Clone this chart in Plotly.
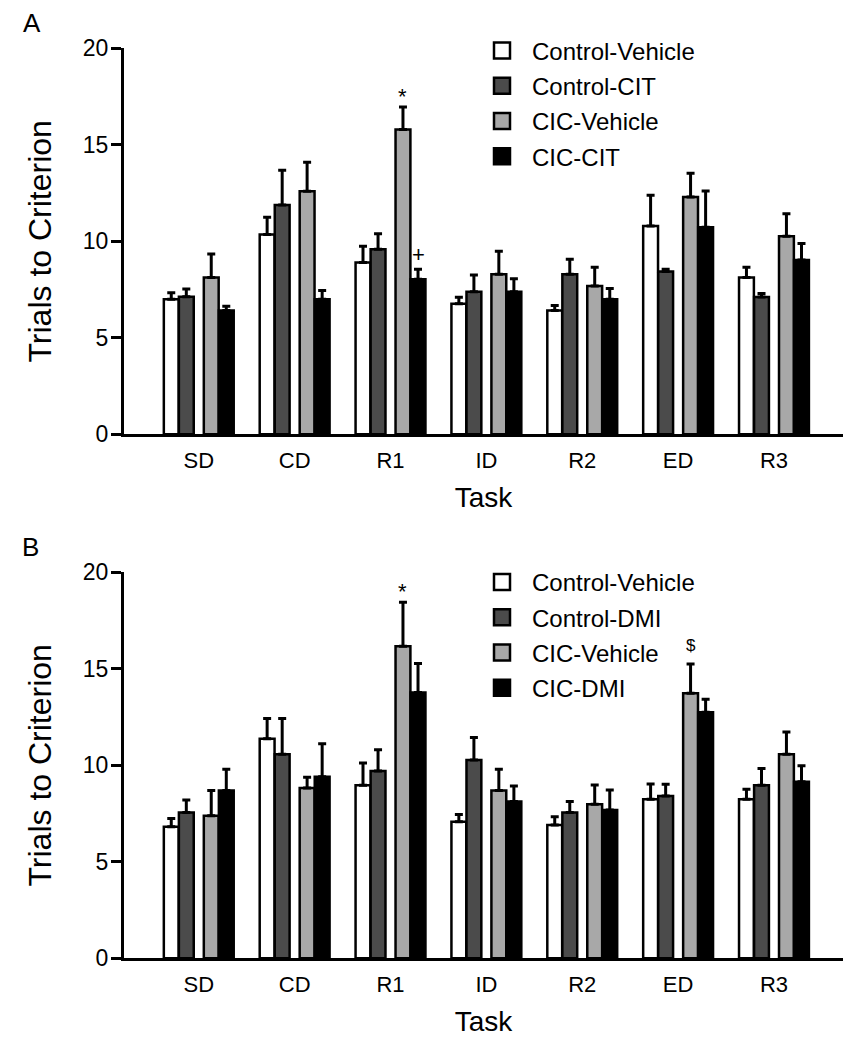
import plotly.graph_objects as go

# ---------------- data ----------------
tasks = ["SD", "CD", "R1", "ID", "R2", "ED", "R3"]

# Panel A
names_A = ["Control-Vehicle", "Control-CIT", "CIC-Vehicle", "CIC-CIT"]
ctrl_veh_A = [7.0, 10.35, 8.9, 6.77, 6.41, 10.79, 8.12]
ctrl_veh_A_err = [0.34, 0.9, 0.85, 0.33, 0.26, 1.6, 0.53]
ctrl_cit_A = [7.13, 11.88, 9.59, 7.39, 8.29, 8.43, 7.12]
ctrl_cit_A_err = [0.4, 1.8, 0.8, 0.86, 0.78, 0.12, 0.17]
cic_veh_A = [8.12, 12.59, 15.79, 8.29, 7.69, 12.3, 10.26]
cic_veh_A_err = [1.22, 1.5, 1.17, 1.19, 0.97, 1.23, 1.17]
cic_cit_A = [6.41, 7.0, 8.03, 7.39, 7.0, 10.73, 9.03]
cic_cit_A_err = [0.22, 0.45, 0.52, 0.67, 0.55, 1.88, 0.86]

# Panel B
names_B = ["Control-Vehicle", "Control-DMI", "CIC-Vehicle", "CIC-DMI"]
ctrl_veh_B = [6.82, 11.38, 8.96, 7.08, 6.91, 8.24, 8.24]
ctrl_veh_B_err = [0.43, 1.04, 1.16, 0.37, 0.43, 0.79, 0.52]
ctrl_dmi_B = [7.55, 10.57, 9.71, 10.28, 7.55, 8.41, 8.96]
ctrl_dmi_B_err = [0.65, 1.85, 1.1, 1.16, 0.57, 0.61, 0.88]
cic_veh_B = [7.39, 8.83, 16.17, 8.69, 7.98, 13.73, 10.57]
cic_veh_B_err = [1.3, 0.55, 2.28, 1.1, 1.0, 1.52, 1.16]
cic_dmi_B = [8.7, 9.41, 13.77, 8.12, 7.69, 12.75, 9.15]
cic_dmi_B_err = [1.09, 1.71, 1.51, 0.81, 1.03, 0.67, 0.83]

y_ticks = [0, 5, 10, 15, 20]

# significance marks: (panel, task, series index, symbol)
marks = [("A", "R1", 2, "*"), ("A", "R1", 3, "+"), ("B", "R1", 2, "*"), ("B", "ED", 2, "$")]

# ---------------- style ----------------
FONT = "Liberation Sans, Arial, Helvetica, sans-serif"
OFF = 8                      # page body margin
W, H = 867 - OFF, 1050 - 2 * OFF


def px_x(px):
    return (px - OFF) / W


def px_y(py):
    return 1 - (py - OFF) / H


colors = ["#ffffff", "#4b4b4b", "#a8a8a8", "#000000"]
centers = [-0.287, -0.130, 0.130, 0.287]
bar_w = 0.155

panels = {
    "A": dict(names=names_A,
              vals=[ctrl_veh_A, ctrl_cit_A, cic_veh_A, cic_cit_A],
              errs=[ctrl_veh_A_err, ctrl_cit_A_err, cic_veh_A_err, cic_cit_A_err],
              xa="x", ya="y", legend="legend"),
    "B": dict(names=names_B,
              vals=[ctrl_veh_B, ctrl_dmi_B, cic_veh_B, cic_dmi_B],
              errs=[ctrl_veh_B_err, ctrl_dmi_B_err, cic_veh_B_err, cic_dmi_B_err],
              xa="x2", ya="y2", legend="legend2"),
}

fig = go.Figure()
for key, p in panels.items():
    for i in range(4):
        fig.add_trace(go.Bar(
            x=tasks, y=p["vals"][i], width=bar_w, offset=centers[i] - bar_w / 2,
            marker=dict(color=colors[i], line=dict(color="black", width=2.5)),
            error_y=dict(type="data", array=p["errs"][i], arrayminus=[0] * len(tasks),
                         symmetric=False, color="black", thickness=3, width=4),
            xaxis=p["xa"], yaxis=p["ya"], showlegend=False, name=p["names"][i],
        ))
    for i in range(4):
        fig.add_trace(go.Scatter(
            x=[None], y=[None], mode="markers", name=p["names"][i],
            marker=dict(symbol="square", size=17, color=colors[i],
                        line=dict(color="black", width=2.5)),
            legend=p["legend"], legendgroup=key + str(i),
            xaxis=p["xa"], yaxis=p["ya"],
        ))

mark_shift = {"*": -4, "+": 0, "$": 7}
annotations = []
for panel, task, si, sym in marks:
    p = panels[panel]
    ti = tasks.index(task)
    top = p["vals"][si][ti] + p["errs"][si][ti]
    annotations.append(dict(
        x=ti + centers[si], y=top, xref=p["xa"], yref=p["ya"], text=sym,
        showarrow=False, yanchor="bottom", xanchor="center", yshift=mark_shift[sym],
        font=dict(family=FONT, size=17 if sym == "$" else 22, color="black"),
    ))

annotations.append(dict(x=px_x(32), y=px_y(23), xref="paper", yref="paper", text="A",
                        showarrow=False, xanchor="center", yanchor="middle",
                        font=dict(family=FONT, size=26, color="black")))
annotations.append(dict(x=px_x(30), y=px_y(547), xref="paper", yref="paper", text="B",
                        showarrow=False, xanchor="center", yanchor="middle",
                        font=dict(family=FONT, size=26, color="black")))

x_dom = [px_x(124), px_x(843)]
yA = [px_y(434.3), px_y(48.3)]
yB = [px_y(958.3), px_y(572.3)]


def xaxis(anchor):
    return dict(domain=x_dom, anchor=anchor, type="category", range=[-0.78, 6.72],
                showline=True, linewidth=3, linecolor="black", ticks="",
                tickfont=dict(family=FONT, size=22, color="black"), ticklabelstandoff=4,
                title=dict(text="Task", font=dict(family=FONT, size=28, color="black"), standoff=16),
                showgrid=False, zeroline=False, automargin=False, fixedrange=True)


def yaxis(anchor, dom):
    return dict(domain=dom, anchor=anchor, range=[0, 20], tickvals=y_ticks,
                showline=True, linewidth=3, linecolor="black",
                ticks="outside", ticklen=10, tickwidth=3, tickcolor="black",
                tickfont=dict(family=FONT, size=23, color="black"), ticklabelstandoff=-2,
                title=dict(text="Trials to Criterion", font=dict(family=FONT, size=32, color="black"),
                           standoff=22),
                showgrid=False, zeroline=False, automargin=False, fixedrange=True)


def legend(top_px):
    return dict(x=px_x(472), y=px_y(top_px), xanchor="left", yanchor="top",
                font=dict(family=FONT, size=24, color="black"), bgcolor="rgba(0,0,0,0)",
                itemwidth=50, tracegroupgap=1, itemsizing="trace", traceorder="grouped")


fig.update_layout(
    width=W, height=H,
    margin=dict(l=0, r=0, t=0, b=0),
    paper_bgcolor="white", plot_bgcolor="white",
    barmode="overlay",
    font=dict(family=FONT, color="black"),
    xaxis=xaxis("y"), yaxis=yaxis("x", yA),
    xaxis2=xaxis("y2"), yaxis2=yaxis("x2", yB),
    legend=legend(28.5), legend2=legend(560),
    annotations=annotations,
)

fig.write_html("out.html")
